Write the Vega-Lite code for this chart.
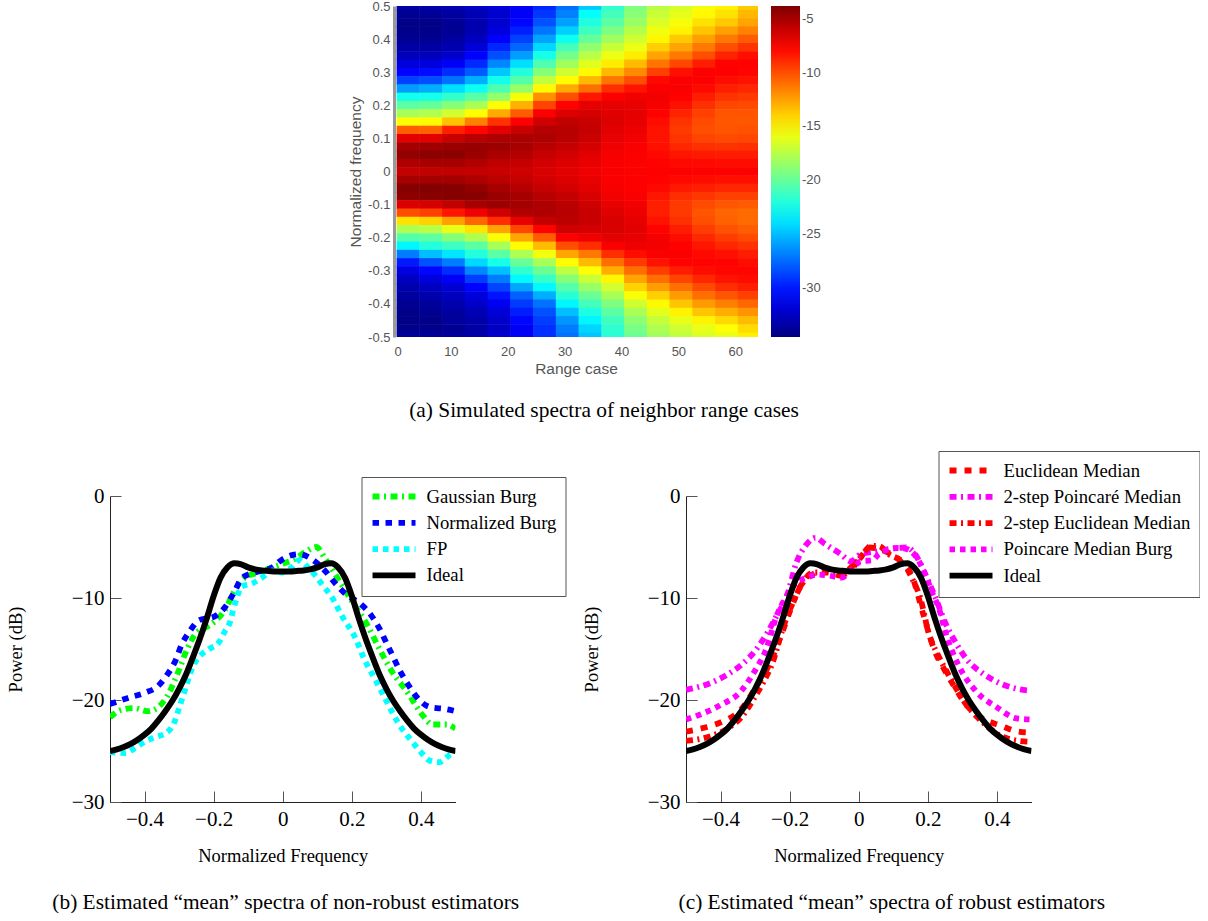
{"$schema":"https://vega.github.io/schema/vega-lite/v6.json","padding":{"left":6,"top":0,"right":0,"bottom":0},"background":"white","spacing":29,
"resolve":{"scale":{"color":"independent","strokeDash":"independent"},"legend":{"color":"independent","strokeDash":"independent"}},
"config":{"view":{"stroke":null},"axis":{"grid":false},"concat":{"spacing":0}},
"datasets":{"ideal":[{"x":-0.5,"y":-25},{"x":-0.48,"y":-24.85},{"x":-0.46,"y":-24.6},{"x":-0.44,"y":-24.3},{"x":-0.42,"y":-23.9},{"x":-0.4,"y":-23.4},{"x":-0.38,"y":-22.8},{"x":-0.36,"y":-22},{"x":-0.34,"y":-21.1},{"x":-0.32,"y":-20.1},{"x":-0.3,"y":-18.9},{"x":-0.28,"y":-17.5},{"x":-0.26,"y":-15.8},{"x":-0.24,"y":-14},{"x":-0.22,"y":-12},{"x":-0.2,"y":-9.8},{"x":-0.18,"y":-8},{"x":-0.16,"y":-7},{"x":-0.14,"y":-6.6},{"x":-0.12,"y":-6.7},{"x":-0.1,"y":-7},{"x":-0.08,"y":-7.2},{"x":-0.06,"y":-7.3},{"x":-0.04,"y":-7.35},{"x":-0.02,"y":-7.4},{"x":0,"y":-7.4},{"x":0.02,"y":-7.4},{"x":0.04,"y":-7.35},{"x":0.06,"y":-7.3},{"x":0.08,"y":-7.2},{"x":0.1,"y":-7},{"x":0.12,"y":-6.7},{"x":0.14,"y":-6.6},{"x":0.16,"y":-7},{"x":0.18,"y":-8},{"x":0.2,"y":-9.8},{"x":0.22,"y":-12},{"x":0.24,"y":-14},{"x":0.26,"y":-15.8},{"x":0.28,"y":-17.5},{"x":0.3,"y":-18.9},{"x":0.32,"y":-20.1},{"x":0.34,"y":-21.1},{"x":0.36,"y":-22},{"x":0.38,"y":-22.8},{"x":0.4,"y":-23.4},{"x":0.42,"y":-23.9},{"x":0.44,"y":-24.3},{"x":0.46,"y":-24.6},{"x":0.48,"y":-24.85},{"x":0.5,"y":-25}]},
"vconcat":[{"resolve":{"scale":{"color":"independent"},"legend":{"color":"independent"}},"hconcat":[
{"width":238,"height":1,"data":{"values":[{"a":0}]},"mark":{"type":"point","opacity":0},"encoding":{}},
{"width":364,"height":331,"data":{"values":[
{"r":2.5,"f":0.5,"p":-33.5},{"r":2.5,"f":0.475,"p":-34},{"r":2.5,"f":0.45,"p":-34.3},{"r":2.5,"f":0.425,"p":-34.3},{"r":2.5,"f":0.4,"p":-34},{"r":2.5,"f":0.375,"p":-33.5},{"r":2.5,"f":0.35,"p":-32.8},{"r":2.5,"f":0.325,"p":-31.8},{"r":2.5,"f":0.3,"p":-30.7},{"r":2.5,"f":0.275,"p":-28.8},{"r":2.5,"f":0.25,"p":-26},{"r":2.5,"f":0.225,"p":-22.5},{"r":2.5,"f":0.2,"p":-20.3},{"r":2.5,"f":0.175,"p":-18},{"r":2.5,"f":0.15,"p":-15.3},{"r":2.5,"f":0.125,"p":-10.5},{"r":2.5,"f":0.1,"p":-6.8},{"r":2.5,"f":0.075,"p":-4.9},{"r":2.5,"f":0.05,"p":-4.4},{"r":2.5,"f":0.025,"p":-5.2},{"r":2.5,"f":0,"p":-5.9},{"r":2.5,"f":-0.025,"p":-5},{"r":2.5,"f":-0.05,"p":-4},{"r":2.5,"f":-0.075,"p":-4.2},{"r":2.5,"f":-0.1,"p":-6.6},{"r":2.5,"f":-0.125,"p":-10},{"r":2.5,"f":-0.15,"p":-14.5},{"r":2.5,"f":-0.175,"p":-17.8},{"r":2.5,"f":-0.2,"p":-20.5},{"r":2.5,"f":-0.225,"p":-23.3},{"r":2.5,"f":-0.25,"p":-27},{"r":2.5,"f":-0.275,"p":-30},{"r":2.5,"f":-0.3,"p":-31.6},{"r":2.5,"f":-0.325,"p":-32.6},{"r":2.5,"f":-0.35,"p":-33.2},{"r":2.5,"f":-0.375,"p":-33.6},{"r":2.5,"f":-0.4,"p":-34},{"r":2.5,"f":-0.425,"p":-34.3},{"r":2.5,"f":-0.45,"p":-34.4},{"r":2.5,"f":-0.475,"p":-34.2},{"r":2.5,"f":-0.5,"p":-33.8},
{"r":6.5,"f":0.5,"p":-33.3},{"r":6.5,"f":0.475,"p":-33.9},{"r":6.5,"f":0.45,"p":-34.3},{"r":6.5,"f":0.425,"p":-34.3},{"r":6.5,"f":0.4,"p":-34},{"r":6.5,"f":0.375,"p":-33.5},{"r":6.5,"f":0.35,"p":-32.8},{"r":6.5,"f":0.325,"p":-31.7},{"r":6.5,"f":0.3,"p":-30.4},{"r":6.5,"f":0.275,"p":-28.4},{"r":6.5,"f":0.25,"p":-25.5},{"r":6.5,"f":0.225,"p":-22.4},{"r":6.5,"f":0.2,"p":-20},{"r":6.5,"f":0.175,"p":-17.7},{"r":6.5,"f":0.15,"p":-15.2},{"r":6.5,"f":0.125,"p":-10.6},{"r":6.5,"f":0.1,"p":-6.8},{"r":6.5,"f":0.075,"p":-4.8},{"r":6.5,"f":0.05,"p":-4.2},{"r":6.5,"f":0.025,"p":-5},{"r":6.5,"f":0,"p":-5.8},{"r":6.5,"f":-0.025,"p":-4.9},{"r":6.5,"f":-0.05,"p":-3.9},{"r":6.5,"f":-0.075,"p":-4.1},{"r":6.5,"f":-0.1,"p":-6.4},{"r":6.5,"f":-0.125,"p":-9.6},{"r":6.5,"f":-0.15,"p":-14},{"r":6.5,"f":-0.175,"p":-17.5},{"r":6.5,"f":-0.2,"p":-20.2},{"r":6.5,"f":-0.225,"p":-22},{"r":6.5,"f":-0.25,"p":-25},{"r":6.5,"f":-0.275,"p":-28.3},{"r":6.5,"f":-0.3,"p":-30.6},{"r":6.5,"f":-0.325,"p":-31.8},{"r":6.5,"f":-0.35,"p":-32.6},{"r":6.5,"f":-0.375,"p":-33.2},{"r":6.5,"f":-0.4,"p":-33.7},{"r":6.5,"f":-0.425,"p":-34.1},{"r":6.5,"f":-0.45,"p":-34.3},{"r":6.5,"f":-0.475,"p":-34.2},{"r":6.5,"f":-0.5,"p":-33.8},
{"r":10.5,"f":0.5,"p":-33},{"r":10.5,"f":0.475,"p":-33.6},{"r":10.5,"f":0.45,"p":-33.9},{"r":10.5,"f":0.425,"p":-34},{"r":10.5,"f":0.4,"p":-33.6},{"r":10.5,"f":0.375,"p":-33.1},{"r":10.5,"f":0.35,"p":-32.3},{"r":10.5,"f":0.325,"p":-31},{"r":10.5,"f":0.3,"p":-29.4},{"r":10.5,"f":0.275,"p":-27.3},{"r":10.5,"f":0.25,"p":-24},{"r":10.5,"f":0.225,"p":-21.5},{"r":10.5,"f":0.2,"p":-19},{"r":10.5,"f":0.175,"p":-16.7},{"r":10.5,"f":0.15,"p":-13.5},{"r":10.5,"f":0.125,"p":-8.6},{"r":10.5,"f":0.1,"p":-6},{"r":10.5,"f":0.075,"p":-4.6},{"r":10.5,"f":0.05,"p":-4.2},{"r":10.5,"f":0.025,"p":-5},{"r":10.5,"f":0,"p":-5.8},{"r":10.5,"f":-0.025,"p":-4.9},{"r":10.5,"f":-0.05,"p":-4},{"r":10.5,"f":-0.075,"p":-4},{"r":10.5,"f":-0.1,"p":-5.8},{"r":10.5,"f":-0.125,"p":-8.3},{"r":10.5,"f":-0.15,"p":-12.5},{"r":10.5,"f":-0.175,"p":-16},{"r":10.5,"f":-0.2,"p":-19},{"r":10.5,"f":-0.225,"p":-21.2},{"r":10.5,"f":-0.25,"p":-23.8},{"r":10.5,"f":-0.275,"p":-27},{"r":10.5,"f":-0.3,"p":-29.4},{"r":10.5,"f":-0.325,"p":-31},{"r":10.5,"f":-0.35,"p":-32},{"r":10.5,"f":-0.375,"p":-32.7},{"r":10.5,"f":-0.4,"p":-33.2},{"r":10.5,"f":-0.425,"p":-33.6},{"r":10.5,"f":-0.45,"p":-33.8},{"r":10.5,"f":-0.475,"p":-34},{"r":10.5,"f":-0.5,"p":-33.7},
{"r":14.5,"f":0.5,"p":-32.5},{"r":14.5,"f":0.475,"p":-33},{"r":14.5,"f":0.45,"p":-33.2},{"r":14.5,"f":0.425,"p":-33.2},{"r":14.5,"f":0.4,"p":-32.6},{"r":14.5,"f":0.375,"p":-31.9},{"r":14.5,"f":0.35,"p":-30.8},{"r":14.5,"f":0.325,"p":-29.5},{"r":14.5,"f":0.3,"p":-28},{"r":14.5,"f":0.275,"p":-25.5},{"r":14.5,"f":0.25,"p":-22.7},{"r":14.5,"f":0.225,"p":-20.3},{"r":14.5,"f":0.2,"p":-17.9},{"r":14.5,"f":0.175,"p":-15.3},{"r":14.5,"f":0.15,"p":-11.5},{"r":14.5,"f":0.125,"p":-7.8},{"r":14.5,"f":0.1,"p":-5.5},{"r":14.5,"f":0.075,"p":-4.5},{"r":14.5,"f":0.05,"p":-4.6},{"r":14.5,"f":0.025,"p":-5.3},{"r":14.5,"f":0,"p":-5.9},{"r":14.5,"f":-0.025,"p":-5.2},{"r":14.5,"f":-0.05,"p":-4.4},{"r":14.5,"f":-0.075,"p":-4.1},{"r":14.5,"f":-0.1,"p":-5},{"r":14.5,"f":-0.125,"p":-7.2},{"r":14.5,"f":-0.15,"p":-10.8},{"r":14.5,"f":-0.175,"p":-14.6},{"r":14.5,"f":-0.2,"p":-17.8},{"r":14.5,"f":-0.225,"p":-20.3},{"r":14.5,"f":-0.25,"p":-22},{"r":14.5,"f":-0.275,"p":-24.2},{"r":14.5,"f":-0.3,"p":-26.7},{"r":14.5,"f":-0.325,"p":-28.9},{"r":14.5,"f":-0.35,"p":-30.7},{"r":14.5,"f":-0.375,"p":-31.7},{"r":14.5,"f":-0.4,"p":-32.4},{"r":14.5,"f":-0.425,"p":-33},{"r":14.5,"f":-0.45,"p":-33.3},{"r":14.5,"f":-0.475,"p":-33.5},{"r":14.5,"f":-0.5,"p":-33.3},
{"r":18.5,"f":0.5,"p":-31.9},{"r":18.5,"f":0.475,"p":-32.2},{"r":18.5,"f":0.45,"p":-32.2},{"r":18.5,"f":0.425,"p":-31.7},{"r":18.5,"f":0.4,"p":-30.8},{"r":18.5,"f":0.375,"p":-29.6},{"r":18.5,"f":0.35,"p":-28.4},{"r":18.5,"f":0.325,"p":-26.7},{"r":18.5,"f":0.3,"p":-24.7},{"r":18.5,"f":0.275,"p":-22.5},{"r":18.5,"f":0.25,"p":-20.7},{"r":18.5,"f":0.225,"p":-18.6},{"r":18.5,"f":0.2,"p":-15.4},{"r":18.5,"f":0.175,"p":-12.8},{"r":18.5,"f":0.15,"p":-9.2},{"r":18.5,"f":0.125,"p":-6.8},{"r":18.5,"f":0.1,"p":-5.2},{"r":18.5,"f":0.075,"p":-4.7},{"r":18.5,"f":0.05,"p":-5.1},{"r":18.5,"f":0.025,"p":-5.7},{"r":18.5,"f":0,"p":-6},{"r":18.5,"f":-0.025,"p":-5.6},{"r":18.5,"f":-0.05,"p":-5},{"r":18.5,"f":-0.075,"p":-4.6},{"r":18.5,"f":-0.1,"p":-4.7},{"r":18.5,"f":-0.125,"p":-6.2},{"r":18.5,"f":-0.15,"p":-9},{"r":18.5,"f":-0.175,"p":-12.6},{"r":18.5,"f":-0.2,"p":-15.5},{"r":18.5,"f":-0.225,"p":-18},{"r":18.5,"f":-0.25,"p":-20.3},{"r":18.5,"f":-0.275,"p":-22.4},{"r":18.5,"f":-0.3,"p":-25},{"r":18.5,"f":-0.325,"p":-27},{"r":18.5,"f":-0.35,"p":-28.7},{"r":18.5,"f":-0.375,"p":-30.2},{"r":18.5,"f":-0.4,"p":-31.2},{"r":18.5,"f":-0.425,"p":-31.9},{"r":18.5,"f":-0.45,"p":-32.3},{"r":18.5,"f":-0.475,"p":-32.5},{"r":18.5,"f":-0.5,"p":-32.2},
{"r":22.5,"f":0.5,"p":-31},{"r":22.5,"f":0.475,"p":-31},{"r":22.5,"f":0.45,"p":-30.6},{"r":22.5,"f":0.425,"p":-29.8},{"r":22.5,"f":0.4,"p":-28.8},{"r":22.5,"f":0.375,"p":-27.6},{"r":22.5,"f":0.35,"p":-26},{"r":22.5,"f":0.325,"p":-24},{"r":22.5,"f":0.3,"p":-22},{"r":22.5,"f":0.275,"p":-20.5},{"r":22.5,"f":0.25,"p":-18.5},{"r":22.5,"f":0.225,"p":-15.6},{"r":22.5,"f":0.2,"p":-13},{"r":22.5,"f":0.175,"p":-10.4},{"r":22.5,"f":0.15,"p":-7.6},{"r":22.5,"f":0.125,"p":-6},{"r":22.5,"f":0.1,"p":-5.1},{"r":22.5,"f":0.075,"p":-5},{"r":22.5,"f":0.05,"p":-5.4},{"r":22.5,"f":0.025,"p":-5.9},{"r":22.5,"f":0,"p":-6.2},{"r":22.5,"f":-0.025,"p":-5.9},{"r":22.5,"f":-0.05,"p":-5.4},{"r":22.5,"f":-0.075,"p":-5},{"r":22.5,"f":-0.1,"p":-4.9},{"r":22.5,"f":-0.125,"p":-5.3},{"r":22.5,"f":-0.15,"p":-7},{"r":22.5,"f":-0.175,"p":-9.8},{"r":22.5,"f":-0.2,"p":-12.6},{"r":22.5,"f":-0.225,"p":-15.3},{"r":22.5,"f":-0.25,"p":-17.8},{"r":22.5,"f":-0.275,"p":-19.9},{"r":22.5,"f":-0.3,"p":-21.6},{"r":22.5,"f":-0.325,"p":-23.2},{"r":22.5,"f":-0.35,"p":-25.7},{"r":22.5,"f":-0.375,"p":-27.8},{"r":22.5,"f":-0.4,"p":-29},{"r":22.5,"f":-0.425,"p":-29.9},{"r":22.5,"f":-0.45,"p":-30.6},{"r":22.5,"f":-0.475,"p":-31},{"r":22.5,"f":-0.5,"p":-31},
{"r":26.5,"f":0.5,"p":-29.6},{"r":26.5,"f":0.475,"p":-29.1},{"r":26.5,"f":0.45,"p":-28.3},{"r":26.5,"f":0.425,"p":-27.2},{"r":26.5,"f":0.4,"p":-25.8},{"r":26.5,"f":0.375,"p":-24.2},{"r":26.5,"f":0.35,"p":-22.4},{"r":26.5,"f":0.325,"p":-20.7},{"r":26.5,"f":0.3,"p":-19},{"r":26.5,"f":0.275,"p":-17.2},{"r":26.5,"f":0.25,"p":-15.2},{"r":26.5,"f":0.225,"p":-12},{"r":26.5,"f":0.2,"p":-9.7},{"r":26.5,"f":0.175,"p":-7.5},{"r":26.5,"f":0.15,"p":-6.2},{"r":26.5,"f":0.125,"p":-5.4},{"r":26.5,"f":0.1,"p":-5.2},{"r":26.5,"f":0.075,"p":-5.5},{"r":26.5,"f":0.05,"p":-5.9},{"r":26.5,"f":0.025,"p":-6.3},{"r":26.5,"f":0,"p":-6.5},{"r":26.5,"f":-0.025,"p":-6.3},{"r":26.5,"f":-0.05,"p":-5.9},{"r":26.5,"f":-0.075,"p":-5.5},{"r":26.5,"f":-0.1,"p":-5.2},{"r":26.5,"f":-0.125,"p":-5.2},{"r":26.5,"f":-0.15,"p":-5.9},{"r":26.5,"f":-0.175,"p":-7.7},{"r":26.5,"f":-0.2,"p":-10.4},{"r":26.5,"f":-0.225,"p":-13.3},{"r":26.5,"f":-0.25,"p":-15.7},{"r":26.5,"f":-0.275,"p":-18},{"r":26.5,"f":-0.3,"p":-19.8},{"r":26.5,"f":-0.325,"p":-21.4},{"r":26.5,"f":-0.35,"p":-23.2},{"r":26.5,"f":-0.375,"p":-25.5},{"r":26.5,"f":-0.4,"p":-27.3},{"r":26.5,"f":-0.425,"p":-28.3},{"r":26.5,"f":-0.45,"p":-28.9},{"r":26.5,"f":-0.475,"p":-29.3},{"r":26.5,"f":-0.5,"p":-29.3},
{"r":30.5,"f":0.5,"p":-27.4},{"r":30.5,"f":0.475,"p":-26.8},{"r":30.5,"f":0.45,"p":-25.9},{"r":30.5,"f":0.425,"p":-24.5},{"r":30.5,"f":0.4,"p":-22.7},{"r":30.5,"f":0.375,"p":-21},{"r":30.5,"f":0.35,"p":-19.6},{"r":30.5,"f":0.325,"p":-18.2},{"r":30.5,"f":0.3,"p":-16.8},{"r":30.5,"f":0.275,"p":-15.3},{"r":30.5,"f":0.25,"p":-12.8},{"r":30.5,"f":0.225,"p":-10},{"r":30.5,"f":0.2,"p":-7.7},{"r":30.5,"f":0.175,"p":-6.6},{"r":30.5,"f":0.15,"p":-5.8},{"r":30.5,"f":0.125,"p":-5.5},{"r":30.5,"f":0.1,"p":-5.5},{"r":30.5,"f":0.075,"p":-5.9},{"r":30.5,"f":0.05,"p":-6.3},{"r":30.5,"f":0.025,"p":-6.6},{"r":30.5,"f":0,"p":-6.8},{"r":30.5,"f":-0.025,"p":-6.6},{"r":30.5,"f":-0.05,"p":-6.3},{"r":30.5,"f":-0.075,"p":-5.9},{"r":30.5,"f":-0.1,"p":-5.6},{"r":30.5,"f":-0.125,"p":-5.5},{"r":30.5,"f":-0.15,"p":-5.6},{"r":30.5,"f":-0.175,"p":-6.2},{"r":30.5,"f":-0.2,"p":-7.6},{"r":30.5,"f":-0.225,"p":-10},{"r":30.5,"f":-0.25,"p":-12.7},{"r":30.5,"f":-0.275,"p":-15.3},{"r":30.5,"f":-0.3,"p":-17.3},{"r":30.5,"f":-0.325,"p":-19},{"r":30.5,"f":-0.35,"p":-20.5},{"r":30.5,"f":-0.375,"p":-21.8},{"r":30.5,"f":-0.4,"p":-23.3},{"r":30.5,"f":-0.425,"p":-25},{"r":30.5,"f":-0.45,"p":-26.2},{"r":30.5,"f":-0.475,"p":-27},{"r":30.5,"f":-0.5,"p":-27.3},
{"r":34.5,"f":0.5,"p":-24.6},{"r":34.5,"f":0.475,"p":-22.9},{"r":34.5,"f":0.45,"p":-22.1},{"r":34.5,"f":0.425,"p":-21.2},{"r":34.5,"f":0.4,"p":-20},{"r":34.5,"f":0.375,"p":-18.7},{"r":34.5,"f":0.35,"p":-17.5},{"r":34.5,"f":0.325,"p":-16.3},{"r":34.5,"f":0.3,"p":-15.2},{"r":34.5,"f":0.275,"p":-13.2},{"r":34.5,"f":0.25,"p":-11},{"r":34.5,"f":0.225,"p":-8.3},{"r":34.5,"f":0.2,"p":-6.9},{"r":34.5,"f":0.175,"p":-6.4},{"r":34.5,"f":0.15,"p":-6},{"r":34.5,"f":0.125,"p":-5.9},{"r":34.5,"f":0.1,"p":-6.1},{"r":34.5,"f":0.075,"p":-6.4},{"r":34.5,"f":0.05,"p":-6.8},{"r":34.5,"f":0.025,"p":-7},{"r":34.5,"f":0,"p":-7.2},{"r":34.5,"f":-0.025,"p":-7},{"r":34.5,"f":-0.05,"p":-6.8},{"r":34.5,"f":-0.075,"p":-6.5},{"r":34.5,"f":-0.1,"p":-6.2},{"r":34.5,"f":-0.125,"p":-6},{"r":34.5,"f":-0.15,"p":-6},{"r":34.5,"f":-0.175,"p":-6.3},{"r":34.5,"f":-0.2,"p":-7.2},{"r":34.5,"f":-0.225,"p":-9},{"r":34.5,"f":-0.25,"p":-11.3},{"r":34.5,"f":-0.275,"p":-13.3},{"r":34.5,"f":-0.3,"p":-15.4},{"r":34.5,"f":-0.325,"p":-17},{"r":34.5,"f":-0.35,"p":-18.4},{"r":34.5,"f":-0.375,"p":-19.8},{"r":34.5,"f":-0.4,"p":-21},{"r":34.5,"f":-0.425,"p":-22.2},{"r":34.5,"f":-0.45,"p":-23.3},{"r":34.5,"f":-0.475,"p":-24.3},{"r":34.5,"f":-0.5,"p":-24.8},
{"r":38.5,"f":0.5,"p":-21.6},{"r":38.5,"f":0.475,"p":-21},{"r":38.5,"f":0.45,"p":-20.3},{"r":38.5,"f":0.425,"p":-19.3},{"r":38.5,"f":0.4,"p":-18.2},{"r":38.5,"f":0.375,"p":-17},{"r":38.5,"f":0.35,"p":-15.9},{"r":38.5,"f":0.325,"p":-14.8},{"r":38.5,"f":0.3,"p":-13.2},{"r":38.5,"f":0.275,"p":-11.2},{"r":38.5,"f":0.25,"p":-9},{"r":38.5,"f":0.225,"p":-7.5},{"r":38.5,"f":0.2,"p":-6.9},{"r":38.5,"f":0.175,"p":-6.7},{"r":38.5,"f":0.15,"p":-6.6},{"r":38.5,"f":0.125,"p":-6.8},{"r":38.5,"f":0.1,"p":-7},{"r":38.5,"f":0.075,"p":-7.2},{"r":38.5,"f":0.05,"p":-7.4},{"r":38.5,"f":0.025,"p":-7.5},{"r":38.5,"f":0,"p":-7.5},{"r":38.5,"f":-0.025,"p":-7.5},{"r":38.5,"f":-0.05,"p":-7.4},{"r":38.5,"f":-0.075,"p":-7.3},{"r":38.5,"f":-0.1,"p":-7},{"r":38.5,"f":-0.125,"p":-6.7},{"r":38.5,"f":-0.15,"p":-6.5},{"r":38.5,"f":-0.175,"p":-6.5},{"r":38.5,"f":-0.2,"p":-6.8},{"r":38.5,"f":-0.225,"p":-7.5},{"r":38.5,"f":-0.25,"p":-9},{"r":38.5,"f":-0.275,"p":-11},{"r":38.5,"f":-0.3,"p":-12.9},{"r":38.5,"f":-0.325,"p":-15.1},{"r":38.5,"f":-0.35,"p":-16.7},{"r":38.5,"f":-0.375,"p":-17.9},{"r":38.5,"f":-0.4,"p":-19.2},{"r":38.5,"f":-0.425,"p":-20.3},{"r":38.5,"f":-0.45,"p":-21.1},{"r":38.5,"f":-0.475,"p":-21.7},{"r":38.5,"f":-0.5,"p":-21.8},
{"r":42.5,"f":0.5,"p":-19.2},{"r":42.5,"f":0.475,"p":-18.9},{"r":42.5,"f":0.45,"p":-18.4},{"r":42.5,"f":0.425,"p":-17.6},{"r":42.5,"f":0.4,"p":-16.8},{"r":42.5,"f":0.375,"p":-15.9},{"r":42.5,"f":0.35,"p":-14.8},{"r":42.5,"f":0.325,"p":-13.3},{"r":42.5,"f":0.3,"p":-11.8},{"r":42.5,"f":0.275,"p":-10},{"r":42.5,"f":0.25,"p":-8.2},{"r":42.5,"f":0.225,"p":-7.3},{"r":42.5,"f":0.2,"p":-7},{"r":42.5,"f":0.175,"p":-6.9},{"r":42.5,"f":0.15,"p":-6.9},{"r":42.5,"f":0.125,"p":-7.1},{"r":42.5,"f":0.1,"p":-7.3},{"r":42.5,"f":0.075,"p":-7.5},{"r":42.5,"f":0.05,"p":-7.6},{"r":42.5,"f":0.025,"p":-7.6},{"r":42.5,"f":0,"p":-7.6},{"r":42.5,"f":-0.025,"p":-7.6},{"r":42.5,"f":-0.05,"p":-7.6},{"r":42.5,"f":-0.075,"p":-7.5},{"r":42.5,"f":-0.1,"p":-7.3},{"r":42.5,"f":-0.125,"p":-7.1},{"r":42.5,"f":-0.15,"p":-6.9},{"r":42.5,"f":-0.175,"p":-6.8},{"r":42.5,"f":-0.2,"p":-6.9},{"r":42.5,"f":-0.225,"p":-7.2},{"r":42.5,"f":-0.25,"p":-8},{"r":42.5,"f":-0.275,"p":-9.4},{"r":42.5,"f":-0.3,"p":-11},{"r":42.5,"f":-0.325,"p":-12.6},{"r":42.5,"f":-0.35,"p":-14},{"r":42.5,"f":-0.375,"p":-15.5},{"r":42.5,"f":-0.4,"p":-16.8},{"r":42.5,"f":-0.425,"p":-17.9},{"r":42.5,"f":-0.45,"p":-18.8},{"r":42.5,"f":-0.475,"p":-19.4},{"r":42.5,"f":-0.5,"p":-19.8},
{"r":46.5,"f":0.5,"p":-17.4},{"r":46.5,"f":0.475,"p":-17},{"r":46.5,"f":0.45,"p":-16.5},{"r":46.5,"f":0.425,"p":-15.8},{"r":46.5,"f":0.4,"p":-15.1},{"r":46.5,"f":0.375,"p":-13.9},{"r":46.5,"f":0.35,"p":-12.6},{"r":46.5,"f":0.325,"p":-11.2},{"r":46.5,"f":0.3,"p":-9.6},{"r":46.5,"f":0.275,"p":-7.9},{"r":46.5,"f":0.25,"p":-7.5},{"r":46.5,"f":0.225,"p":-7.3},{"r":46.5,"f":0.2,"p":-7.4},{"r":46.5,"f":0.175,"p":-7.7},{"r":46.5,"f":0.15,"p":-8},{"r":46.5,"f":0.125,"p":-8.2},{"r":46.5,"f":0.1,"p":-8.2},{"r":46.5,"f":0.075,"p":-8.1},{"r":46.5,"f":0.05,"p":-7.9},{"r":46.5,"f":0.025,"p":-7.7},{"r":46.5,"f":0,"p":-7.6},{"r":46.5,"f":-0.025,"p":-7.7},{"r":46.5,"f":-0.05,"p":-7.9},{"r":46.5,"f":-0.075,"p":-8.3},{"r":46.5,"f":-0.1,"p":-8.6},{"r":46.5,"f":-0.125,"p":-8.6},{"r":46.5,"f":-0.15,"p":-8.2},{"r":46.5,"f":-0.175,"p":-7.7},{"r":46.5,"f":-0.2,"p":-7.4},{"r":46.5,"f":-0.225,"p":-7.3},{"r":46.5,"f":-0.25,"p":-7.5},{"r":46.5,"f":-0.275,"p":-8.2},{"r":46.5,"f":-0.3,"p":-9.5},{"r":46.5,"f":-0.325,"p":-11},{"r":46.5,"f":-0.35,"p":-12.4},{"r":46.5,"f":-0.375,"p":-13.9},{"r":46.5,"f":-0.4,"p":-15.2},{"r":46.5,"f":-0.425,"p":-16.2},{"r":46.5,"f":-0.45,"p":-17.1},{"r":46.5,"f":-0.475,"p":-17.8},{"r":46.5,"f":-0.5,"p":-18.2},
{"r":50.5,"f":0.5,"p":-16.6},{"r":50.5,"f":0.475,"p":-16.1},{"r":50.5,"f":0.45,"p":-15.6},{"r":50.5,"f":0.425,"p":-15},{"r":50.5,"f":0.4,"p":-13.7},{"r":50.5,"f":0.375,"p":-12.6},{"r":50.5,"f":0.35,"p":-11.3},{"r":50.5,"f":0.325,"p":-9.8},{"r":50.5,"f":0.3,"p":-8.1},{"r":50.5,"f":0.275,"p":-7.5},{"r":50.5,"f":0.25,"p":-7.5},{"r":50.5,"f":0.225,"p":-7.7},{"r":50.5,"f":0.2,"p":-8.1},{"r":50.5,"f":0.175,"p":-8.7},{"r":50.5,"f":0.15,"p":-9.2},{"r":50.5,"f":0.125,"p":-9.4},{"r":50.5,"f":0.1,"p":-9.2},{"r":50.5,"f":0.075,"p":-8.8},{"r":50.5,"f":0.05,"p":-8.3},{"r":50.5,"f":0.025,"p":-7.9},{"r":50.5,"f":0,"p":-7.6},{"r":50.5,"f":-0.025,"p":-7.9},{"r":50.5,"f":-0.05,"p":-8.4},{"r":50.5,"f":-0.075,"p":-9},{"r":50.5,"f":-0.1,"p":-9.4},{"r":50.5,"f":-0.125,"p":-9.4},{"r":50.5,"f":-0.15,"p":-9.1},{"r":50.5,"f":-0.175,"p":-8.5},{"r":50.5,"f":-0.2,"p":-8},{"r":50.5,"f":-0.225,"p":-7.7},{"r":50.5,"f":-0.25,"p":-7.5},{"r":50.5,"f":-0.275,"p":-7.7},{"r":50.5,"f":-0.3,"p":-8.5},{"r":50.5,"f":-0.325,"p":-9.7},{"r":50.5,"f":-0.35,"p":-11},{"r":50.5,"f":-0.375,"p":-12.3},{"r":50.5,"f":-0.4,"p":-13.6},{"r":50.5,"f":-0.425,"p":-15},{"r":50.5,"f":-0.45,"p":-16},{"r":50.5,"f":-0.475,"p":-16.8},{"r":50.5,"f":-0.5,"p":-17.3},
{"r":54.5,"f":0.5,"p":-15.6},{"r":54.5,"f":0.475,"p":-15.2},{"r":54.5,"f":0.45,"p":-14.5},{"r":54.5,"f":0.425,"p":-13.6},{"r":54.5,"f":0.4,"p":-12.5},{"r":54.5,"f":0.375,"p":-11.3},{"r":54.5,"f":0.35,"p":-10},{"r":54.5,"f":0.325,"p":-8.5},{"r":54.5,"f":0.3,"p":-7.6},{"r":54.5,"f":0.275,"p":-7.6},{"r":54.5,"f":0.25,"p":-7.9},{"r":54.5,"f":0.225,"p":-8.5},{"r":54.5,"f":0.2,"p":-9.1},{"r":54.5,"f":0.175,"p":-9.6},{"r":54.5,"f":0.15,"p":-9.9},{"r":54.5,"f":0.125,"p":-10},{"r":54.5,"f":0.1,"p":-9.7},{"r":54.5,"f":0.075,"p":-9.1},{"r":54.5,"f":0.05,"p":-8.4},{"r":54.5,"f":0.025,"p":-7.9},{"r":54.5,"f":0,"p":-7.6},{"r":54.5,"f":-0.025,"p":-8},{"r":54.5,"f":-0.05,"p":-8.6},{"r":54.5,"f":-0.075,"p":-9.3},{"r":54.5,"f":-0.1,"p":-9.9},{"r":54.5,"f":-0.125,"p":-10.2},{"r":54.5,"f":-0.15,"p":-10},{"r":54.5,"f":-0.175,"p":-9.5},{"r":54.5,"f":-0.2,"p":-8.9},{"r":54.5,"f":-0.225,"p":-8.3},{"r":54.5,"f":-0.25,"p":-7.9},{"r":54.5,"f":-0.275,"p":-7.7},{"r":54.5,"f":-0.3,"p":-8},{"r":54.5,"f":-0.325,"p":-8.8},{"r":54.5,"f":-0.35,"p":-9.9},{"r":54.5,"f":-0.375,"p":-11},{"r":54.5,"f":-0.4,"p":-12.3},{"r":54.5,"f":-0.425,"p":-13.6},{"r":54.5,"f":-0.45,"p":-15},{"r":54.5,"f":-0.475,"p":-16},{"r":54.5,"f":-0.5,"p":-16.5},
{"r":58.5,"f":0.5,"p":-15},{"r":58.5,"f":0.475,"p":-14.5},{"r":58.5,"f":0.45,"p":-13.7},{"r":58.5,"f":0.425,"p":-12.5},{"r":58.5,"f":0.4,"p":-11.3},{"r":58.5,"f":0.375,"p":-10},{"r":58.5,"f":0.35,"p":-8.7},{"r":58.5,"f":0.325,"p":-7.7},{"r":58.5,"f":0.3,"p":-7.6},{"r":58.5,"f":0.275,"p":-8},{"r":58.5,"f":0.25,"p":-8.6},{"r":58.5,"f":0.225,"p":-9.2},{"r":58.5,"f":0.2,"p":-9.8},{"r":58.5,"f":0.175,"p":-10.2},{"r":58.5,"f":0.15,"p":-10.3},{"r":58.5,"f":0.125,"p":-10.2},{"r":58.5,"f":0.1,"p":-9.9},{"r":58.5,"f":0.075,"p":-9.2},{"r":58.5,"f":0.05,"p":-8.5},{"r":58.5,"f":0.025,"p":-8},{"r":58.5,"f":0,"p":-7.6},{"r":58.5,"f":-0.025,"p":-8.1},{"r":58.5,"f":-0.05,"p":-8.8},{"r":58.5,"f":-0.075,"p":-9.6},{"r":58.5,"f":-0.1,"p":-10.3},{"r":58.5,"f":-0.125,"p":-10.7},{"r":58.5,"f":-0.15,"p":-10.6},{"r":58.5,"f":-0.175,"p":-10.1},{"r":58.5,"f":-0.2,"p":-9.5},{"r":58.5,"f":-0.225,"p":-8.8},{"r":58.5,"f":-0.25,"p":-8.1},{"r":58.5,"f":-0.275,"p":-7.7},{"r":58.5,"f":-0.3,"p":-7.8},{"r":58.5,"f":-0.325,"p":-8.2},{"r":58.5,"f":-0.35,"p":-9},{"r":58.5,"f":-0.375,"p":-10.2},{"r":58.5,"f":-0.4,"p":-11.5},{"r":58.5,"f":-0.425,"p":-12.9},{"r":58.5,"f":-0.45,"p":-14.2},{"r":58.5,"f":-0.475,"p":-15.4},{"r":58.5,"f":-0.5,"p":-16},
{"r":62.5,"f":0.5,"p":-13.8},{"r":62.5,"f":0.475,"p":-13.2},{"r":62.5,"f":0.45,"p":-12.6},{"r":62.5,"f":0.425,"p":-11.6},{"r":62.5,"f":0.4,"p":-10.4},{"r":62.5,"f":0.375,"p":-9.2},{"r":62.5,"f":0.35,"p":-8.1},{"r":62.5,"f":0.325,"p":-7.7},{"r":62.5,"f":0.3,"p":-7.8},{"r":62.5,"f":0.275,"p":-8.2},{"r":62.5,"f":0.25,"p":-8.8},{"r":62.5,"f":0.225,"p":-9.4},{"r":62.5,"f":0.2,"p":-9.9},{"r":62.5,"f":0.175,"p":-10.2},{"r":62.5,"f":0.15,"p":-10.3},{"r":62.5,"f":0.125,"p":-10.1},{"r":62.5,"f":0.1,"p":-9.8},{"r":62.5,"f":0.075,"p":-9.1},{"r":62.5,"f":0.05,"p":-8.5},{"r":62.5,"f":0.025,"p":-8},{"r":62.5,"f":0,"p":-7.6},{"r":62.5,"f":-0.025,"p":-8.1},{"r":62.5,"f":-0.05,"p":-8.8},{"r":62.5,"f":-0.075,"p":-9.6},{"r":62.5,"f":-0.1,"p":-10.4},{"r":62.5,"f":-0.125,"p":-10.9},{"r":62.5,"f":-0.15,"p":-10.9},{"r":62.5,"f":-0.175,"p":-10.5},{"r":62.5,"f":-0.2,"p":-9.9},{"r":62.5,"f":-0.225,"p":-9.2},{"r":62.5,"f":-0.25,"p":-8.5},{"r":62.5,"f":-0.275,"p":-8},{"r":62.5,"f":-0.3,"p":-7.8},{"r":62.5,"f":-0.325,"p":-8},{"r":62.5,"f":-0.35,"p":-8.6},{"r":62.5,"f":-0.375,"p":-9.6},{"r":62.5,"f":-0.4,"p":-10.8},{"r":62.5,"f":-0.425,"p":-12.1},{"r":62.5,"f":-0.45,"p":-13.3},{"r":62.5,"f":-0.475,"p":-14.3},{"r":62.5,"f":-0.5,"p":-14.9}
]},
"mark":{"type":"rect","width":23.3,"height":8.8,"clip":true},
"encoding":{"x":{"field":"r","type":"quantitative","scale":{"domain":[0,64],"nice":false},"axis":{"values":[0,10,20,30,40,50,60],"title":"Range case","domain":false,"ticks":false,"labelPadding":8,"labelFont":"Liberation Sans","labelFontSize":13,"labelColor":"#555","titleFont":"Liberation Sans","titleFontWeight":"normal","titleFontSize":15.5,"titleColor":"#555","titlePadding":3}},
"y":{"field":"f","type":"quantitative","scale":{"domain":[-0.5,0.5],"nice":false},"axis":{"values":[-0.5,-0.4,-0.3,-0.2,-0.1,0,0.1,0.2,0.3,0.4,0.5],"labelExpr":"toString(datum.value)","title":"Normalized frequency","domainColor":"#999","domainWidth":3,"ticks":false,"labelPadding":4,"labelFont":"Liberation Sans","labelFontSize":13,"labelColor":"#555","titleFont":"Liberation Sans","titleFontWeight":"normal","titleFontSize":15.5,"titleColor":"#555","titlePadding":4}},
"color":{"field":"p","type":"quantitative","scale":{"domain":[-34.6,-30.75,-26.9,-23.05,-19.2,-15.35,-11.5,-7.65,-3.8],"range":["#00007f","#0000ff","#007fff","#00ffff","#7fff7f","#ffff00","#ff7f00","#ff0000","#7f0000"],"interpolate":"rgb"},"legend":{"orient":"none","legendX":377,"legendY":0,"title":null,"gradientLength":331,"gradientThickness":29,"values":[-5,-10,-15,-20,-25,-30],"labelExpr":"toString(datum.value)","gradientStrokeColor":"#777","labelFont":"Liberation Sans","labelFontSize":13,"labelColor":"#555"}}},
"title":{"text":"(a)  Simulated spectra of neighbor range cases","orient":"bottom","dx":28,"offset":23,"font":"Liberation Serif","fontSize":21.4,"fontWeight":"normal","color":"black"}}
],"spacing":0},
{"resolve":{"scale":{"color":"independent","strokeDash":"independent"},"legend":{"color":"independent","strokeDash":"independent"}},"hconcat":[
{"width":345.5,"height":306,
"layer":[{"data":{"values":[{"x":-0.5,"y":-21.7,"s":"Gaussian Burg"},{"x":-0.47,"y":-21,"s":"Gaussian Burg"},{"x":-0.43,"y":-20.8,"s":"Gaussian Burg"},{"x":-0.39,"y":-21.1,"s":"Gaussian Burg"},{"x":-0.357,"y":-20.6,"s":"Gaussian Burg"},{"x":-0.334,"y":-19.6,"s":"Gaussian Burg"},{"x":-0.302,"y":-17.2,"s":"Gaussian Burg"},{"x":-0.274,"y":-14.8,"s":"Gaussian Burg"},{"x":-0.25,"y":-13.4,"s":"Gaussian Burg"},{"x":-0.218,"y":-12.8,"s":"Gaussian Burg"},{"x":-0.19,"y":-12.1,"s":"Gaussian Burg"},{"x":-0.17,"y":-11.3,"s":"Gaussian Burg"},{"x":-0.133,"y":-8.9,"s":"Gaussian Burg"},{"x":-0.11,"y":-8,"s":"Gaussian Burg"},{"x":-0.08,"y":-7.6,"s":"Gaussian Burg"},{"x":-0.047,"y":-7.2,"s":"Gaussian Burg"},{"x":-0.006,"y":-6.7,"s":"Gaussian Burg"},{"x":0.033,"y":-6.2,"s":"Gaussian Burg"},{"x":0.065,"y":-5.5,"s":"Gaussian Burg"},{"x":0.097,"y":-5,"s":"Gaussian Burg"},{"x":0.122,"y":-6.1,"s":"Gaussian Burg"},{"x":0.156,"y":-7.9,"s":"Gaussian Burg"},{"x":0.2,"y":-10.3,"s":"Gaussian Burg"},{"x":0.244,"y":-12.6,"s":"Gaussian Burg"},{"x":0.28,"y":-15,"s":"Gaussian Burg"},{"x":0.316,"y":-17.2,"s":"Gaussian Burg"},{"x":0.362,"y":-19.3,"s":"Gaussian Burg"},{"x":0.405,"y":-21.5,"s":"Gaussian Burg"},{"x":0.434,"y":-22.4,"s":"Gaussian Burg"},{"x":0.474,"y":-22.4,"s":"Gaussian Burg"},{"x":0.5,"y":-22.8,"s":"Gaussian Burg"},
{"x":-0.5,"y":-20.4,"s":"Normalized Burg"},{"x":-0.448,"y":-19.8,"s":"Normalized Burg"},{"x":-0.4,"y":-19.3,"s":"Normalized Burg"},{"x":-0.36,"y":-18.6,"s":"Normalized Burg"},{"x":-0.334,"y":-17.5,"s":"Normalized Burg"},{"x":-0.31,"y":-16.1,"s":"Normalized Burg"},{"x":-0.293,"y":-14.6,"s":"Normalized Burg"},{"x":-0.27,"y":-13.3,"s":"Normalized Burg"},{"x":-0.243,"y":-12.2,"s":"Normalized Burg"},{"x":-0.197,"y":-11.8,"s":"Normalized Burg"},{"x":-0.165,"y":-10.8,"s":"Normalized Burg"},{"x":-0.14,"y":-9.4,"s":"Normalized Burg"},{"x":-0.117,"y":-8,"s":"Normalized Burg"},{"x":-0.07,"y":-7.4,"s":"Normalized Burg"},{"x":-0.036,"y":-7.1,"s":"Normalized Burg"},{"x":0.004,"y":-6.1,"s":"Normalized Burg"},{"x":0.047,"y":-5.7,"s":"Normalized Burg"},{"x":0.089,"y":-6.3,"s":"Normalized Burg"},{"x":0.124,"y":-7.4,"s":"Normalized Burg"},{"x":0.153,"y":-8.6,"s":"Normalized Burg"},{"x":0.185,"y":-9.7,"s":"Normalized Burg"},{"x":0.226,"y":-10.6,"s":"Normalized Burg"},{"x":0.256,"y":-11.7,"s":"Normalized Burg"},{"x":0.28,"y":-13,"s":"Normalized Burg"},{"x":0.3,"y":-14.4,"s":"Normalized Burg"},{"x":0.32,"y":-15.8,"s":"Normalized Burg"},{"x":0.34,"y":-17.2,"s":"Normalized Burg"},{"x":0.363,"y":-18.5,"s":"Normalized Burg"},{"x":0.39,"y":-19.8,"s":"Normalized Burg"},{"x":0.426,"y":-20.7,"s":"Normalized Burg"},{"x":0.474,"y":-20.9,"s":"Normalized Burg"},{"x":0.5,"y":-21.1,"s":"Normalized Burg"},
{"x":-0.5,"y":-25.1,"s":"FP"},{"x":-0.456,"y":-25.2,"s":"FP"},{"x":-0.427,"y":-24.7,"s":"FP"},{"x":-0.395,"y":-24,"s":"FP"},{"x":-0.365,"y":-23.6,"s":"FP"},{"x":-0.336,"y":-23.2,"s":"FP"},{"x":-0.314,"y":-22.2,"s":"FP"},{"x":-0.302,"y":-21,"s":"FP"},{"x":-0.282,"y":-18.9,"s":"FP"},{"x":-0.26,"y":-16.7,"s":"FP"},{"x":-0.24,"y":-15.7,"s":"FP"},{"x":-0.213,"y":-15,"s":"FP"},{"x":-0.186,"y":-14.4,"s":"FP"},{"x":-0.168,"y":-13.3,"s":"FP"},{"x":-0.152,"y":-12.3,"s":"FP"},{"x":-0.143,"y":-11.1,"s":"FP"},{"x":-0.133,"y":-10,"s":"FP"},{"x":-0.12,"y":-8.9,"s":"FP"},{"x":-0.09,"y":-8.6,"s":"FP"},{"x":-0.06,"y":-8,"s":"FP"},{"x":-0.03,"y":-7.3,"s":"FP"},{"x":-0.004,"y":-7.5,"s":"FP"},{"x":0.022,"y":-7.1,"s":"FP"},{"x":0.049,"y":-6.3,"s":"FP"},{"x":0.07,"y":-6.9,"s":"FP"},{"x":0.097,"y":-7.9,"s":"FP"},{"x":0.119,"y":-8.9,"s":"FP"},{"x":0.14,"y":-9.8,"s":"FP"},{"x":0.172,"y":-11.8,"s":"FP"},{"x":0.21,"y":-13.9,"s":"FP"},{"x":0.236,"y":-16,"s":"FP"},{"x":0.268,"y":-18,"s":"FP"},{"x":0.3,"y":-20.1,"s":"FP"},{"x":0.333,"y":-22.2,"s":"FP"},{"x":0.375,"y":-24.1,"s":"FP"},{"x":0.397,"y":-25,"s":"FP"},{"x":0.423,"y":-25.9,"s":"FP"},{"x":0.453,"y":-26.1,"s":"FP"},{"x":0.482,"y":-25.4,"s":"FP"},{"x":0.5,"y":-25,"s":"FP"}]},
"mark":{"type":"line","strokeWidth":5.8,"interpolate":"monotone","clip":true},
"encoding":{"x":{"field":"x","type":"quantitative","scale":{"domain":[-0.5,0.5],"nice":false},"axis":{"values":[-0.4,-0.2,0,0.2,0.4],"format":".1~f","title":"Normalized Frequency","tickSize":-11,"tickColor":"#555","domainColor":"#222","labelPadding":17,"labelFont":"Liberation Serif","labelFontSize":21,"labelColor":"black","titleFont":"Liberation Serif","titleFontWeight":"normal","titleFontSize":18.5,"titleColor":"black","titlePadding":17}},
"y":{"field":"y","type":"quantitative","scale":{"domain":[-30,0],"nice":false},"axis":{"values":[0,-10,-20,-30],"format":"d","title":"Power (dB)","tickSize":-11,"tickColor":"#555","domainColor":"#222","labelPadding":17,"labelFont":"Liberation Serif","labelFontSize":21,"labelColor":"black","titleFont":"Liberation Serif","titleFontWeight":"normal","titleFontSize":18.5,"titleColor":"black","titlePadding":46}},
"color":{"field":"s","type":"nominal","scale":{"domain":["Gaussian Burg","Normalized Burg","FP","Ideal"],"range":["#00ff00","#0000ff","#00ffff","#000000"]},"legend":{"title":null,"orient":"none","legendX":251.5,"legendY":-19,"fillColor":"white","strokeColor":"#555","padding":9,"symbolType":"M-1.13,0H4.6","symbolSize":225,"symbolStrokeWidth":5.8,"labelFont":"Liberation Serif","labelFontSize":18.7,"labelColor":"black","rowPadding":1.3,"labelOffset":35,"labelLimit":240}},
"strokeDash":{"field":"s","type":"nominal","scale":{"domain":["Gaussian Burg","Normalized Burg","FP","Ideal"],"range":[[7,4.5,2,4.5],[6.5,6.5],[5.5,5],[1,0]]},"legend":{"title":null,"orient":"none","legendX":251.5,"legendY":-19,"fillColor":"white","strokeColor":"#555","padding":9,"symbolType":"M-1.13,0H4.6","symbolSize":225,"symbolStrokeWidth":5.8,"labelFont":"Liberation Serif","labelFontSize":18.7,"labelColor":"black","rowPadding":1.3,"labelOffset":35,"labelLimit":240}}}},
{"data":{"name":"ideal"},"mark":{"type":"line","strokeWidth":6,"interpolate":"monotone","clip":true,"color":"black"},"encoding":{"x":{"field":"x","type":"quantitative"},"y":{"field":"y","type":"quantitative"}}}],
"title":{"text":"(b)  Estimated “mean” spectra of non-robust estimators","orient":"bottom","dx":3,"offset":27,"font":"Liberation Serif","fontSize":21.4,"fontWeight":"normal","color":"black"}},
{"width":345.5,"height":306,
"layer":[{"data":{"values":[{"x":-0.5,"y":-23.1,"s":"Euclidean Median"},{"x":-0.445,"y":-22.7,"s":"Euclidean Median"},{"x":-0.4,"y":-22.2,"s":"Euclidean Median"},{"x":-0.34,"y":-20.9,"s":"Euclidean Median"},{"x":-0.295,"y":-18.6,"s":"Euclidean Median"},{"x":-0.26,"y":-16.6,"s":"Euclidean Median"},{"x":-0.225,"y":-13.7,"s":"Euclidean Median"},{"x":-0.197,"y":-11.1,"s":"Euclidean Median"},{"x":-0.168,"y":-8.8,"s":"Euclidean Median"},{"x":-0.139,"y":-7.8,"s":"Euclidean Median"},{"x":-0.098,"y":-7.3,"s":"Euclidean Median"},{"x":-0.052,"y":-7.8,"s":"Euclidean Median"},{"x":-0.017,"y":-6.8,"s":"Euclidean Median"},{"x":0.006,"y":-6,"s":"Euclidean Median"},{"x":0.029,"y":-5.05,"s":"Euclidean Median"},{"x":0.075,"y":-5.4,"s":"Euclidean Median"},{"x":0.121,"y":-6.4,"s":"Euclidean Median"},{"x":0.156,"y":-8,"s":"Euclidean Median"},{"x":0.185,"y":-11.4,"s":"Euclidean Median"},{"x":0.22,"y":-15.2,"s":"Euclidean Median"},{"x":0.249,"y":-17.1,"s":"Euclidean Median"},{"x":0.277,"y":-18.7,"s":"Euclidean Median"},{"x":0.312,"y":-20.5,"s":"Euclidean Median"},{"x":0.353,"y":-21.7,"s":"Euclidean Median"},{"x":0.41,"y":-22.5,"s":"Euclidean Median"},{"x":0.462,"y":-23.1,"s":"Euclidean Median"},{"x":0.5,"y":-23.2,"s":"Euclidean Median"},
{"x":-0.5,"y":-19,"s":"2-step Poincaré Median"},{"x":-0.434,"y":-18.4,"s":"2-step Poincaré Median"},{"x":-0.38,"y":-17.5,"s":"2-step Poincaré Median"},{"x":-0.338,"y":-16.5,"s":"2-step Poincaré Median"},{"x":-0.298,"y":-15.1,"s":"2-step Poincaré Median"},{"x":-0.266,"y":-13.5,"s":"2-step Poincaré Median"},{"x":-0.237,"y":-11.7,"s":"2-step Poincaré Median"},{"x":-0.208,"y":-9.8,"s":"2-step Poincaré Median"},{"x":-0.18,"y":-6.5,"s":"2-step Poincaré Median"},{"x":-0.15,"y":-4.7,"s":"2-step Poincaré Median"},{"x":-0.125,"y":-4.1,"s":"2-step Poincaré Median"},{"x":-0.098,"y":-4.7,"s":"2-step Poincaré Median"},{"x":-0.052,"y":-5.7,"s":"2-step Poincaré Median"},{"x":-0.023,"y":-6.4,"s":"2-step Poincaré Median"},{"x":0.006,"y":-5.7,"s":"2-step Poincaré Median"},{"x":0.058,"y":-5.4,"s":"2-step Poincaré Median"},{"x":0.11,"y":-5.1,"s":"2-step Poincaré Median"},{"x":0.139,"y":-5.05,"s":"2-step Poincaré Median"},{"x":0.165,"y":-5.8,"s":"2-step Poincaré Median"},{"x":0.19,"y":-7.5,"s":"2-step Poincaré Median"},{"x":0.22,"y":-9.8,"s":"2-step Poincaré Median"},{"x":0.254,"y":-12.7,"s":"2-step Poincaré Median"},{"x":0.283,"y":-14.5,"s":"2-step Poincaré Median"},{"x":0.312,"y":-16,"s":"2-step Poincaré Median"},{"x":0.355,"y":-17.3,"s":"2-step Poincaré Median"},{"x":0.405,"y":-18.3,"s":"2-step Poincaré Median"},{"x":0.457,"y":-18.9,"s":"2-step Poincaré Median"},{"x":0.5,"y":-19.1,"s":"2-step Poincaré Median"},
{"x":-0.5,"y":-24,"s":"2-step Euclidean Median"},{"x":-0.434,"y":-23.6,"s":"2-step Euclidean Median"},{"x":-0.38,"y":-22.8,"s":"2-step Euclidean Median"},{"x":-0.335,"y":-21.5,"s":"2-step Euclidean Median"},{"x":-0.306,"y":-20,"s":"2-step Euclidean Median"},{"x":-0.277,"y":-18.3,"s":"2-step Euclidean Median"},{"x":-0.249,"y":-16.3,"s":"2-step Euclidean Median"},{"x":-0.22,"y":-13,"s":"2-step Euclidean Median"},{"x":-0.19,"y":-10.4,"s":"2-step Euclidean Median"},{"x":-0.162,"y":-8.5,"s":"2-step Euclidean Median"},{"x":-0.133,"y":-7.5,"s":"2-step Euclidean Median"},{"x":-0.092,"y":-7.5,"s":"2-step Euclidean Median"},{"x":-0.052,"y":-7.8,"s":"2-step Euclidean Median"},{"x":-0.017,"y":-7,"s":"2-step Euclidean Median"},{"x":0.012,"y":-5.7,"s":"2-step Euclidean Median"},{"x":0.035,"y":-4.9,"s":"2-step Euclidean Median"},{"x":0.058,"y":-4.9,"s":"2-step Euclidean Median"},{"x":0.087,"y":-5.7,"s":"2-step Euclidean Median"},{"x":0.127,"y":-6.5,"s":"2-step Euclidean Median"},{"x":0.156,"y":-8.2,"s":"2-step Euclidean Median"},{"x":0.179,"y":-10.1,"s":"2-step Euclidean Median"},{"x":0.202,"y":-13.4,"s":"2-step Euclidean Median"},{"x":0.231,"y":-15.7,"s":"2-step Euclidean Median"},{"x":0.266,"y":-17.9,"s":"2-step Euclidean Median"},{"x":0.306,"y":-20.2,"s":"2-step Euclidean Median"},{"x":0.353,"y":-22,"s":"2-step Euclidean Median"},{"x":0.41,"y":-23.5,"s":"2-step Euclidean Median"},{"x":0.462,"y":-24,"s":"2-step Euclidean Median"},{"x":0.5,"y":-24.1,"s":"2-step Euclidean Median"},
{"x":-0.5,"y":-21.9,"s":"Poincare Median Burg"},{"x":-0.457,"y":-21.4,"s":"Poincare Median Burg"},{"x":-0.4,"y":-20.5,"s":"Poincare Median Burg"},{"x":-0.34,"y":-19.1,"s":"Poincare Median Burg"},{"x":-0.3,"y":-17.1,"s":"Poincare Median Burg"},{"x":-0.27,"y":-15.2,"s":"Poincare Median Burg"},{"x":-0.237,"y":-11.7,"s":"Poincare Median Burg"},{"x":-0.214,"y":-10.1,"s":"Poincare Median Burg"},{"x":-0.18,"y":-8.5,"s":"Poincare Median Burg"},{"x":-0.15,"y":-8,"s":"Poincare Median Burg"},{"x":-0.12,"y":-7.7,"s":"Poincare Median Burg"},{"x":-0.087,"y":-7.8,"s":"Poincare Median Burg"},{"x":-0.05,"y":-8,"s":"Poincare Median Burg"},{"x":-0.023,"y":-7.3,"s":"Poincare Median Burg"},{"x":0.006,"y":-6.4,"s":"Poincare Median Burg"},{"x":0.04,"y":-6.3,"s":"Poincare Median Burg"},{"x":0.058,"y":-5.7,"s":"Poincare Median Burg"},{"x":0.11,"y":-5.1,"s":"Poincare Median Burg"},{"x":0.139,"y":-5.2,"s":"Poincare Median Burg"},{"x":0.165,"y":-5.9,"s":"Poincare Median Burg"},{"x":0.19,"y":-7.5,"s":"Poincare Median Burg"},{"x":0.214,"y":-9.6,"s":"Poincare Median Burg"},{"x":0.231,"y":-10.9,"s":"Poincare Median Burg"},{"x":0.254,"y":-13.7,"s":"Poincare Median Burg"},{"x":0.289,"y":-16.6,"s":"Poincare Median Burg"},{"x":0.341,"y":-19.2,"s":"Poincare Median Burg"},{"x":0.399,"y":-20.7,"s":"Poincare Median Burg"},{"x":0.457,"y":-21.8,"s":"Poincare Median Burg"},{"x":0.5,"y":-21.9,"s":"Poincare Median Burg"}]},
"mark":{"type":"line","strokeWidth":5.8,"interpolate":"monotone","clip":true},
"encoding":{"x":{"field":"x","type":"quantitative","scale":{"domain":[-0.5,0.5],"nice":false},"axis":{"values":[-0.4,-0.2,0,0.2,0.4],"format":".1~f","title":"Normalized Frequency","tickSize":-11,"tickColor":"#555","domainColor":"#222","labelPadding":17,"labelFont":"Liberation Serif","labelFontSize":21,"labelColor":"black","titleFont":"Liberation Serif","titleFontWeight":"normal","titleFontSize":18.5,"titleColor":"black","titlePadding":17}},
"y":{"field":"y","type":"quantitative","scale":{"domain":[-30,0],"nice":false},"axis":{"values":[0,-10,-20,-30],"format":"d","title":"Power (dB)","tickSize":-11,"tickColor":"#555","domainColor":"#222","labelPadding":17,"labelFont":"Liberation Serif","labelFontSize":21,"labelColor":"black","titleFont":"Liberation Serif","titleFontWeight":"normal","titleFontSize":18.5,"titleColor":"black","titlePadding":46}},
"color":{"field":"s","type":"nominal","scale":{"domain":["Euclidean Median","2-step Poincaré Median","2-step Euclidean Median","Poincare Median Burg","Ideal"],"range":["#ff0000","#ff00ff","#ff0000","#ff00ff","#000000"]},"legend":{"title":null,"orient":"none","legendX":252.5,"legendY":-45,"fillColor":"white","strokeColor":"#555","padding":9,"symbolType":"M-1.13,0H4.6","symbolSize":225,"symbolStrokeWidth":5.8,"labelFont":"Liberation Serif","labelFontSize":18.7,"labelColor":"black","rowPadding":1.3,"labelOffset":35,"labelLimit":240}},
"strokeDash":{"field":"s","type":"nominal","scale":{"domain":["Euclidean Median","2-step Poincaré Median","2-step Euclidean Median","Poincare Median Burg","Ideal"],"range":[[7,8],[7,4.5,2,4.5],[7,4.5,2,4.5],[5.5,5],[1,0]]},"legend":{"title":null,"orient":"none","legendX":252.5,"legendY":-45,"fillColor":"white","strokeColor":"#555","padding":9,"symbolType":"M-1.13,0H4.6","symbolSize":225,"symbolStrokeWidth":5.8,"labelFont":"Liberation Serif","labelFontSize":18.7,"labelColor":"black","rowPadding":1.3,"labelOffset":35,"labelLimit":240}}}},
{"data":{"name":"ideal"},"mark":{"type":"line","strokeWidth":6,"interpolate":"monotone","clip":true,"color":"black"},"encoding":{"x":{"field":"x","type":"quantitative"},"y":{"field":"y","type":"quantitative"}}}],
"title":{"text":"(c)  Estimated “mean” spectra of robust estimators","orient":"bottom","dx":33,"offset":27,"font":"Liberation Serif","fontSize":21.4,"fontWeight":"normal","color":"black"}}
],"spacing":16}
]}
